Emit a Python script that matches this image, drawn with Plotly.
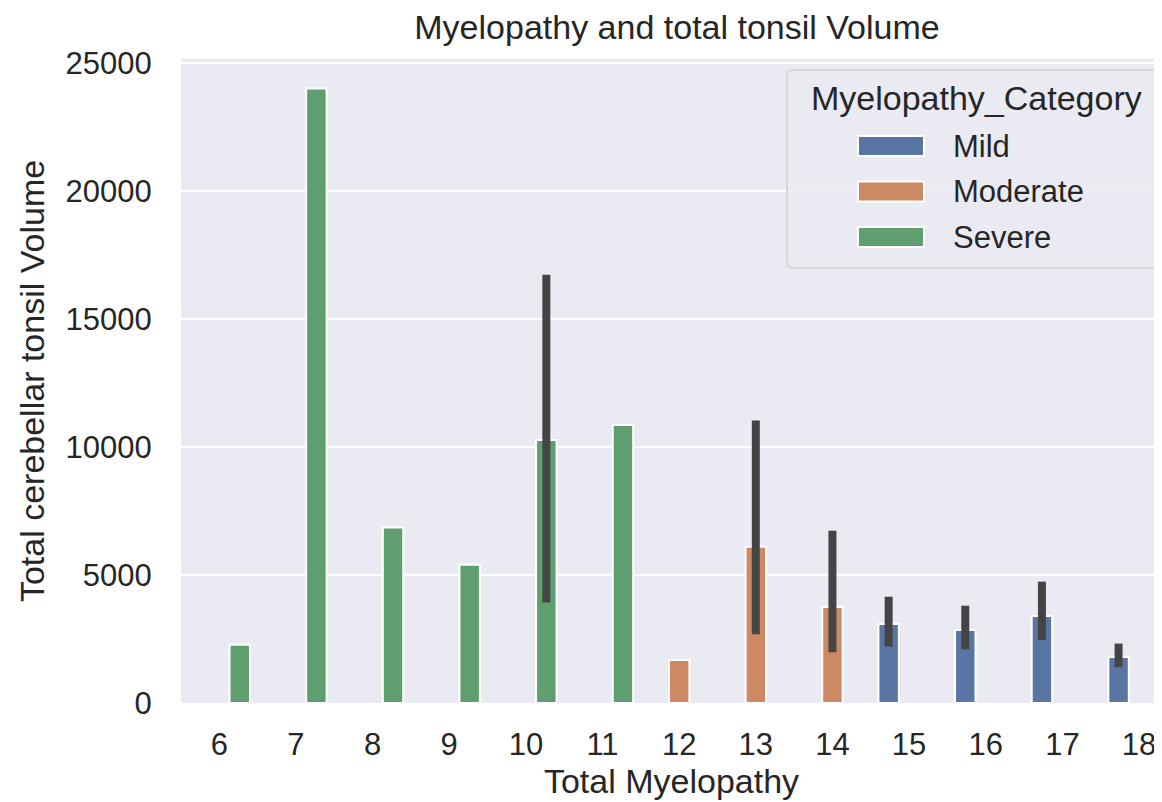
import plotly.graph_objects as go

# Total Myelopathy score on the x axis
categories = ["6", "7", "8", "9", "10", "11", "12", "13", "14", "15", "16", "17", "18"]

# mean volume per hue group (None = no data for that score)
mild_mean = [None, None, None, None, None, None, None, None, None, 3090, 2850, 3400, 1800]
moderate_mean = [None, None, None, None, None, None, 1680, 6100, 3750, None, None, None, None]
severe_mean = [2270, 24000, 6850, 5400, 10270, 10860, None, None, None, None, None, None, None]

# confidence interval ends
mild_hi = [None, None, None, None, None, None, None, None, None, 4150, 3800, 4740, 2320]
mild_lo = [None, None, None, None, None, None, None, None, None, 2200, 2100, 2460, 1400]
moderate_hi = [None, None, None, None, None, None, None, 11030, 6730, None, None, None, None]
moderate_lo = [None, None, None, None, None, None, None, 2680, 1980, None, None, None, None]
severe_hi = [None, None, None, None, 16720, None, None, None, None, None, None, None, None]
severe_lo = [None, None, None, None, 3920, None, None, None, None, None, None, None, None]

y_ticks = [0, 5000, 10000, 15000, 20000, 25000]


def err(mean, hi, lo):
    up = [h - m if h is not None else 0 for m, h in zip(mean, hi)]
    down = [m - l if l is not None else 0 for m, l in zip(mean, lo)]
    return up, down


series = [
    ("Mild", mild_mean, mild_hi, mild_lo, "#5875A4"),
    ("Moderate", moderate_mean, moderate_hi, moderate_lo, "#CC8963"),
    ("Severe", severe_mean, severe_hi, severe_lo, "#5F9E6E"),
]

fig = go.Figure()
for name, mean, hi, lo, color in series:
    up, down = err(mean, hi, lo)
    fig.add_trace(go.Bar(
        x=categories, y=mean, name=name, showlegend=False,
        marker=dict(color=color, line=dict(color="white", width=2)),
        error_y=dict(type="data", array=up, arrayminus=down, symmetric=False,
                     width=0, thickness=8, color="#444444"),
    ))

# figure size leaves room for the page's 8px body margin
FW, FH = 1154, 794
# plot area in figure pixels, used to place the seaborn-style legend box
L, T, W, H = 173, 51, 981, 644


def px(x):
    return (x - L) / W


def py(y):
    return 1 - (y - T) / H


# legend box with rounded corners
x0, x1, y0, y1, r = 779, 1152, 62, 260, 6
path = (f"M {px(x0 + r)},{py(y0)} L {px(x1 - r)},{py(y0)} Q {px(x1)},{py(y0)} {px(x1)},{py(y0 + r)} "
        f"L {px(x1)},{py(y1 - r)} Q {px(x1)},{py(y1)} {px(x1 - r)},{py(y1)} "
        f"L {px(x0 + r)},{py(y1)} Q {px(x0)},{py(y1)} {px(x0)},{py(y1 - r)} "
        f"L {px(x0)},{py(y0 + r)} Q {px(x0)},{py(y0)} {px(x0 + r)},{py(y0)} Z")
fig.add_shape(type="path", path=path, xref="paper", yref="paper",
              fillcolor="rgba(234,234,242,0.85)", line=dict(color="#D0D0D4", width=1.5))
fig.add_annotation(text="Myelopathy_Category", x=px(968), y=py(90), xref="paper", yref="paper",
                   showarrow=False, xanchor="center", yanchor="middle",
                   font=dict(size=34, color="#262626"))
for i, (name, _, _, _, color) in enumerate(series):
    yc = 138 + i * 45.5
    fig.add_shape(type="rect", xref="paper", yref="paper",
                  x0=px(850), x1=px(916), y0=py(yc - 10), y1=py(yc + 10),
                  fillcolor=color, line=dict(color="white", width=2))
    fig.add_annotation(text=name, x=px(943), y=py(yc), xref="paper", yref="paper",
                       showarrow=False, xanchor="left", yanchor="middle",
                       font=dict(size=31, color="#262626"))

font = "Liberation Sans, Arial, sans-serif"
fig.update_layout(
    width=FW, height=FH,
    barmode="group", bargap=0.2, bargroupgap=0,
    paper_bgcolor="white", plot_bgcolor="#EAEAF2",
    margin=dict(l=L, r=FW - L - W, t=T, b=FH - T - H),
    font=dict(family=font, size=31, color="#262626"),
    showlegend=False,
    title=dict(text="Myelopathy and total tonsil Volume", x=669 / FW, xanchor="center",
               y=1 - 19 / FH, yanchor="middle", font=dict(size=34, color="#262626")),
    # the original figure is cut off on the right, so the last slot is only partly shown
    xaxis=dict(title=dict(text="Total Myelopathy", font=dict(size=34), standoff=4),
               showgrid=False, ticks="outside", ticklen=14, tickcolor="rgba(0,0,0,0)",
               tickfont=dict(size=31), range=[-0.5, 12.3], automargin=False),
    yaxis=dict(title=dict(text="Total cerebellar tonsil Volume", font=dict(size=34), standoff=10),
               range=[0, 25150], tickvals=y_ticks, ticktext=[str(v) for v in y_ticks],
               gridcolor="white", gridwidth=2, zeroline=False,
               ticks="outside", ticklen=22, tickcolor="rgba(0,0,0,0)",
               tickfont=dict(size=31), automargin=False),
)

fig.write_html("out.html")
